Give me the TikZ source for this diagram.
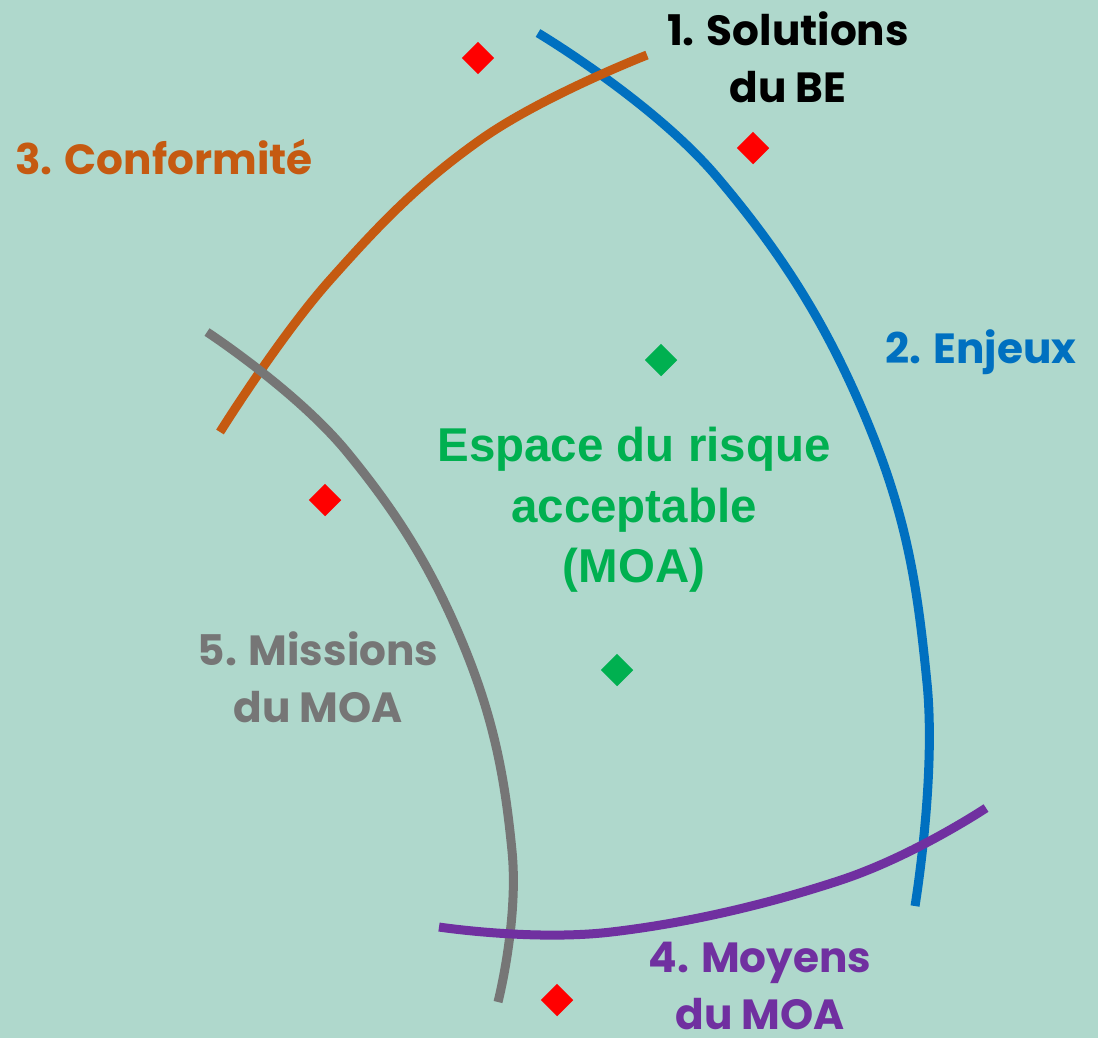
\documentclass[tikz,border=0pt]{standalone}
\usepackage{fontspec}
\setmainfont{Poppins}
\newfontfamily\zonefont{Liberation Sans}
\usetikzlibrary{shapes.geometric}
\definecolor{bgteal}{RGB}{175,216,204}
\definecolor{enjblue}{RGB}{0,112,192}
\definecolor{confor}{RGB}{197,90,17}
\definecolor{missgray}{RGB}{118,118,118}
\definecolor{moypurple}{RGB}{112,48,160}
\definecolor{zonegreen}{RGB}{0,176,80}
\tikzset{
	limit/.style={line width=0.09cm},
	lbl/.style={font=\fontsize{12}{16.2}\selectfont\bfseries, align=center, inner sep=0pt},
	redpt/.style={diamond, fill=red, minimum size=0.33cm, inner sep=0pt},
	greenpt/.style={diamond, fill=zonegreen, minimum size=0.33cm, inner sep=0pt}
}
\begin{document}
\begin{tikzpicture}[x=0.01cm, y=-0.01cm]
		\fill [bgteal] (0,0) rectangle (1098,1038);
		\useasboundingbox (0,0) rectangle (1098,1038);
		% the five limits
		\draw [limit, enjblue] plot [smooth, tension=0.7] coordinates {(538,33) (717,177) (867,421) (927,683) (915,906)};
		\draw [limit, confor] plot [smooth, tension=0.7] coordinates {(647,55) (480,140) (330,280) (220,432)};
		\draw [limit, missgray] plot [smooth, tension=0.7] coordinates {(207,332) (347,452) (463,644) (512,851) (498,1002)};
		\draw [limit, moypurple] plot [smooth, tension=0.7] coordinates {(439,927) (611,932) (841,880) (986,808)};
		% points
		\node [redpt] (r1) at (478,58) {};
		\node [redpt] (r2) at (753,148) {};
		\node [redpt] (r3) at (325,500) {};
		\node [redpt] (r4) at (557,1000) {};
		\node [greenpt] (g1) at (661,360) {};
		\node [greenpt] (g2) at (617,670) {};
		% labels
		\node [lbl, black] (sol) at (788,57) {1. Solutions\\du BE};
		\node [lbl, confor] (conf) at (164,157) {3. Conformit\'e};
		\node [lbl, enjblue] (enj) at (981,352) {2. Enjeux};
		\node [lbl, missgray] (miss) at (318,677) {5. Missions\\du MOA};
		\node [lbl, moypurple] (moy) at (760,986) {4. Moyens\\du MOA};
		\node [lbl, zonegreen, font=\zonefont\fontsize{13.5}{17.2}\selectfont\bfseries] (zone) at (634,510) {Espace du risque\\acceptable\\(MOA)};
\end{tikzpicture}
\end{document}
